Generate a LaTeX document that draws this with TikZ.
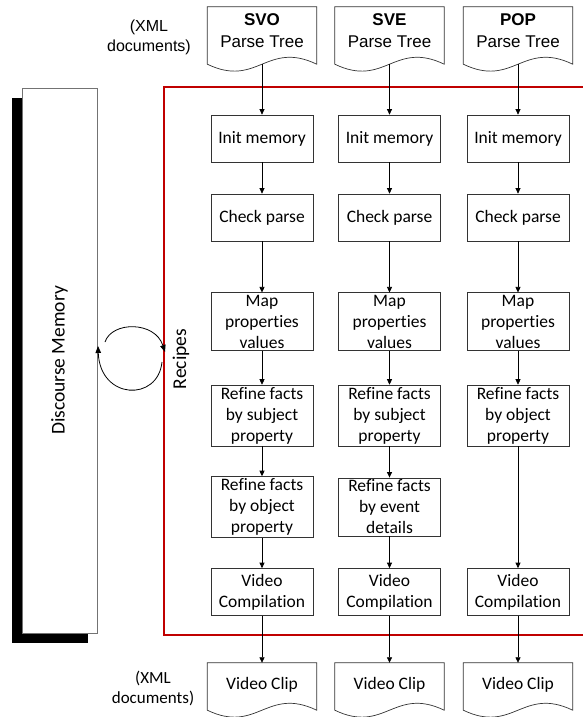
\documentclass[tikz,border=0pt]{standalone}
\usepackage{fontspec}
\setmainfont{Carlito}[Ligatures=NoCommon]
\newfontfamily\arialfont{Liberation Sans}
\usetikzlibrary{arrows.meta}
\definecolor{recipered}{RGB}{192,0,0}
\newcommand{\docshape}[2]{%
  \draw[docline] ([yshift=-#2]#1.south west) -- (#1.north west) -- (#1.north east)
    -- ([yshift=-#2]#1.south east)
    .. controls +(-50pt,24pt) and +(50pt,-24pt) .. ([yshift=-#2]#1.south west) -- cycle;
  \coordinate (#1-out) at ([yshift=-#2]#1.south);}
\begin{document}
\begin{tikzpicture}[x=1pt,y=-1pt,
    stepbox/.style={draw=black!80, line width=0.7pt, fill=white, minimum width=102pt,
      minimum height=47pt, align=center, inner sep=2pt, font=\fontsize{17.5}{21}\selectfont},
    docbox/.style={minimum width=109pt, align=center, inner sep=0pt},
    docline/.style={draw=black!80, line width=0.7pt},
    flow/.style={line width=0.7pt, -{Triangle[length=5.5pt,width=5pt]}},
    loop/.style={line width=0.8pt, -{Triangle[length=7pt,width=5.5pt]}}]
\useasboundingbox (0,0) rectangle (583,717);
\draw[recipered, line width=1.6pt] (164,87) rectangle (600,635);
\fill[black] (12,98) rectangle (88,643);
\node[draw=black!55, line width=0.8pt, fill=white, minimum width=75pt, minimum height=545pt,
  font=\fontsize{19.5}{23}\selectfont] (memory) at (59.5,360.5) {\rotatebox{90}{Discourse Memory}};
\node[rotate=90, font=\fontsize{19.5}{23}\selectfont] (recipes) at (181,359) {Recipes};
\coordinate (memA) at (105,342);
\coordinate (recA) at (165,352);
\coordinate (recB) at (162,362);
\coordinate (memB) at (98,346);
\draw[loop] (memA) .. controls (112,321) and (155,321) .. (recA);
\draw[loop] (recB) .. controls (158,402) and (100,400) .. (memB);
\node[align=center, font={\arialfont\fontsize{16}{20}\selectfont}] (xmlin) at (149,37) {(XML\\documents)};
\node[align=center, font=\fontsize{17}{20}\selectfont] (xmlout) at (153,688) {(XML\\documents)};
\foreach \c/\x/\t in {svo/262/SVO, sve/389.5/SVE, pop/518/POP} {
  \node[docbox, minimum height=48pt, font={\arialfont\fontsize{17}{22}\selectfont}] (\c) at (\x,31) {\textbf{\t}\\Parse Tree};
  \docshape{\c}{9pt}
  \node[stepbox] (\c-init) at (\x,138.5) {Init memory};
  \node[stepbox] (\c-check) at (\x,217.5) {Check parse};
  \node[stepbox] (\c-map) at (\x,321.5) {Map\\properties\\values};
  \node[stepbox] (\c-comp) at (\x,592) {Video\\Compilation};
  \node[docbox, minimum height=44pt, font=\fontsize{17.5}{21}\selectfont] (\c-clip) at (\x,685) {Video Clip};
  \docshape{\c-clip}{3pt}
  \draw[flow] (\c-out) -- (\c-init);
  \draw[flow] (\c-init) -- (\c-check);
  \draw[flow] (\c-check) -- (\c-map);
  \draw[flow] (\c-comp) -- (\c-clip);
}
\node[stepbox] (svo-subj) at (262,415.5) {Refine facts\\by subject\\property};
\node[stepbox] (svo-obj) at (262,507) {Refine facts\\by object\\property};
\node[stepbox] (sve-subj) at (389.5,415.5) {Refine facts\\by subject\\property};
\node[stepbox] (sve-event) at (389.5,507) {Refine facts\\by event\\details};
\node[stepbox] (pop-obj) at (518,415.5) {Refine facts\\by object\\property};
\draw[flow] (svo-map) -- (svo-subj);
\draw[flow] (svo-subj) -- (svo-obj);
\draw[flow] (svo-obj) -- (svo-comp);
\draw[flow] (sve-map) -- (sve-subj);
\draw[flow] (sve-subj) -- (sve-event);
\draw[flow] (sve-event) -- (sve-comp);
\draw[flow] (pop-map) -- (pop-obj);
\draw[flow] (pop-obj) -- (pop-comp);
\end{tikzpicture}
\end{document}
